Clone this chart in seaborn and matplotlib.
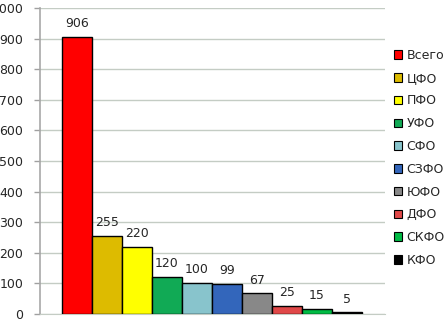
import matplotlib
matplotlib.use("Agg")
import matplotlib.pyplot as plt
import seaborn as sns
import pandas as pd
from matplotlib.patches import Patch

categories = ["Всего", "ЦФО", "ПФО", "УФО", "СФО", "СЗФО", "ЮФО", "ДФО", "СКФО", "КФО"]
values = [906, 255, 220, 120, 100, 99, 67, 25, 15, 5]
colors = ["#FF0000", "#DDBB00", "#FFFF00", "#11AA55", "#88C4CC",
          "#3366BB", "#888888", "#E04848", "#00BB44", "#000000"]
yticks = [0, 100, 200, 300, 400, 500, 600, 700, 800, 900, 1000]

sns.set_style("white")
plt.rcParams['font.family'] = ['DejaVu Sans']

df = pd.DataFrame({"cat": categories, "val": values})

fig = plt.figure(figsize=(4.46, 3.20), dpi=100)
ax = fig.add_axes([40/446, 1 - 314/320, (385-40)/446, (314-8)/320])

sns.barplot(data=df, x="cat", y="val", hue="cat", palette=colors, dodge=False,
            saturation=1, width=1.0, edgecolor="black", linewidth=1.0,
            legend=False, ax=ax, zorder=3)

for i, v in enumerate(values):
    ax.annotate(str(v), (i, v), xytext=(0, 5), textcoords="offset points",
                ha="center", va="bottom", fontsize=9, zorder=4)

ax.set_xlim(-1.233, 10.267)
ax.set_ylim(0, 1000)
ax.set_yticks(yticks)
ax.set_yticklabels([str(t) for t in yticks], fontsize=9)
ax.set_xticks([])
ax.set_xlabel("")
ax.set_ylabel("")
ax.yaxis.grid(True, color="#C4CCC4", linewidth=1.0, zorder=0)
ax.tick_params(axis="y", length=4, width=1, color="#A0A0A0", pad=8, left=True)
for s in ["top", "right"]:
    ax.spines[s].set_visible(False)
ax.spines["left"].set_color("#A8A8A8")
ax.spines["left"].set_linewidth(1.2)
ax.spines["bottom"].set_color("#C4CCC4")

handles = [Patch(facecolor=c, edgecolor="black", linewidth=0.8) for c in colors]
fig.legend(handles, categories, loc="upper left", bbox_to_anchor=(394/446, 1 - 49/320),
           frameon=False, fontsize=9, handlelength=0.65, handleheight=0.65,
           handletextpad=0.35, labelspacing=0.78, borderaxespad=0, borderpad=0)

fig.savefig("out.png", dpi=100)
